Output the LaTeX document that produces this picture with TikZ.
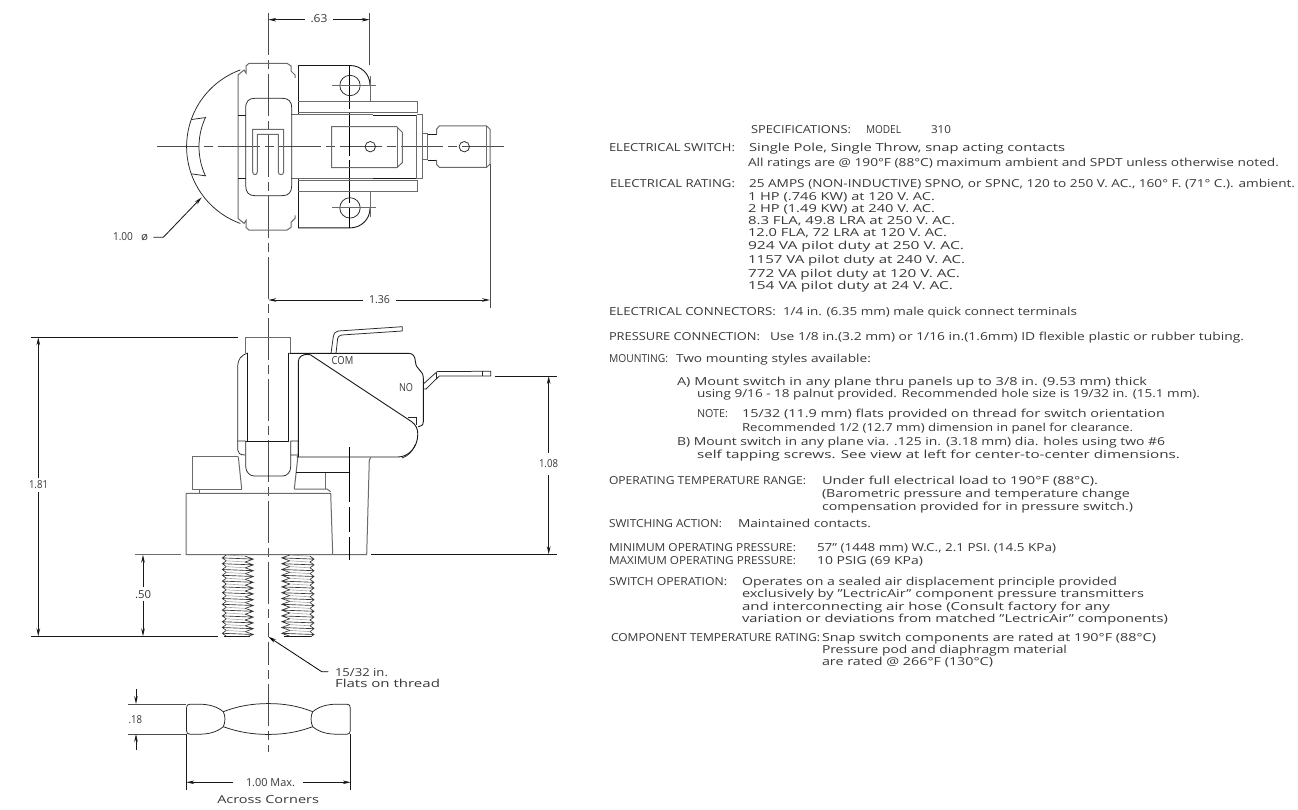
\documentclass[tikz,border=0pt]{standalone}
\usepackage{fontspec}
\usepackage{graphicx}
\setmainfont{Open Sans}
\usetikzlibrary{arrows.meta}
\newcounter{txc}
\newsavebox\txbox
\newcommand{\tl}[4]{% x0 x1 ycentre text
  \stepcounter{txc}%
  \node[tx] (t\thetxc) at (#1,#3+4) {\sbox\txbox{#4}\pgfmathsetmacro\txsx{(#2-#1)/(\wd\txbox)}\scalebox{\txsx}[1]{\usebox\txbox}};}
\newcommand{\thr}[4]{% thread column xl xr depth-left depth-right
  \foreach \i in {0,...,13}{
    \pgfmathsetmacro\ya{555+5.8*\i}
    \pgfmathsetmacro\yb{\ya+2.9}
    \pgfmathsetmacro\yc{\ya+5.8}
    \draw[draw=black!35,line width=.6pt] (#1+#3,\ya) -- (#2-#4,\ya+1.2);
    \draw[draw=black!80,line width=.65pt] (#1+#3,\ya) -- (#1,\yb) -- (#1+#3,\yc)
      (#2-#4,\ya+1.2) -- (#2,\yb+1.2) -- (#2-#4,\yc+1.2)
      (#1,\yb) -- (#2,\yb+1.2);
  }}
\newcommand{\quarter}{%
  \draw[gr] (238,146.7) -- (238,75) -- (244,70) -- (246,73) -- (246,66) -- (249,63.3) -- (287,63.3) -- (291,66) -- (291,71) -- (295,75) -- (295,78);
  \draw[hv] (298,65.5) -- (350,65.5) .. controls (361,65.5) and (370,74) .. (370,85);
  \draw[gr] (370,76) -- (370,102);
  \draw[hv] (298,65.5) -- (298,114);
  \draw[gr] (298,101.7) -- (417.5,101.7) -- (417.5,113.3);
  \draw[gr] (298,113) -- (417.5,113);
  \draw[hv] (238,115) -- (246,115) (373,115) -- (417,115);
  \draw[gr] (291,115) -- (373,115) (417,115) -- (422.7,115);
  \draw[ln] (350,85.5) circle[radius=10.2pt];
  \draw[gr] (332,85.5) -- (376,85.5);
  \draw[ln] (191.7,119.5) -- (206,117.5);
}
\tikzset{
  ln/.style={draw=black!85,line width=.75pt},
  hv/.style={draw=black!90,line width=.9pt},
  gr/.style={draw=black!58,line width=1pt},
  cl/.style={draw=black!70,line width=.8pt,dash pattern=on 42pt off 5pt on 9pt off 5pt},
  dm/.style={draw=black!90,line width=.85pt},
  ex/.style={draw=black!70,line width=.9pt},
  ar/.style={dm,-{Stealth[length=8pt,width=3.6pt]}},
  tx/.style={anchor=base west,inner sep=0pt,outer sep=0pt,text=black!78,font=\fontsize{11}{12}\selectfont},
}
\begin{document}
\begin{tikzpicture}[x=1pt,y=-1pt]
\useasboundingbox (0,0) rectangle (1298,810);
\fill[white] (0,0) rectangle (1298,810);
% ---------- centre lines
\draw[cl] (268.3,13) -- (268.3,752);
\draw[cl] (157,146.7) -- (505,146.7);
\draw[draw=black,line width=.8pt,dash pattern=on 43pt off 4pt] (349.7,66) -- (349.7,228);
% ---------- top view
\quarter
\begin{scope}[shift={(0,293.4)},yscale=-1]
\quarter
\end{scope}
\draw[ln] plot[domain=110:250,samples=60,smooth] ({268.3+81.7*cos(\x)},{146.7+81.7*sin(\x)});
\draw[ln] plot[domain=155:205,samples=24,smooth] ({268.3+69.3*cos(\x)},{146.7+69.3*sin(\x)});
\draw[gr] (291,179) -- (373,179);
\draw[gr] (416.7,115) -- (416.7,179) (422.7,115) -- (422.7,179);
\draw[ln] (245.7,108.3) .. controls (245.7,101) and (249,98.3) .. (255,98.3) -- (282,98.3) .. controls (288.5,98.3) and (291.7,101) .. (291.7,108.3) -- (291.7,185.7) .. controls (291.7,192.5) and (288.5,195.7) .. (282,195.7) -- (255,195.7) .. controls (249,195.7) and (245.7,192.5) .. (245.7,185.7) -- cycle;
\draw[gr] (252.7,172) -- (252.7,129.3) -- (283.7,129.3) -- (283.7,172) .. controls (283.7,175.5) and (278.3,175.5) .. (278.3,172) -- (278.3,134.3) -- (257.3,134.3) -- (257.3,172) .. controls (257.3,175.5) and (252.7,175.5) .. (252.7,172);
% inner terminal
\draw[gr] (331.7,126.7) -- (396.7,126.7) -- (402.3,132.3) -- (402.3,162.7) -- (396.7,167.7) -- (331.7,167.7) -- cycle;
\draw[gr] (397.5,126.7) -- (397.5,167.7);
\draw[ln] (370.3,146.7) circle[radius=5.2pt];
% outer terminal
\draw[gr] (422.7,133.3) -- (427.7,133.3) -- (427.7,160) -- (422.7,160);
\draw[hv] (427.7,134.3) -- (436.7,134.3) (427.7,160) -- (436.7,160);
\draw[gr] (436.7,134.3) -- (436.7,129) -- (439.3,126) -- (486.7,126) -- (490,129.3) -- (490,164) -- (486.7,167.3) -- (439.3,167.3) -- (436.7,164.5) -- (436.7,160);
\draw[gr] (486.7,126) -- (486.7,167.3);
\draw[ln] (464.3,146.7) circle[radius=5.2pt];
% dimensions of the top view
\draw[ex] (369.7,13) -- (369.7,65);
\draw[ar] (305,19.7) -- (268.3,19.7);
\draw[ar] (333,19.7) -- (369.7,19.7);
\tl{310.5}{327.5}{19}{.63}
\draw[ex] (490,164) -- (490,308);
\draw[ar] (363,300) -- (268.3,300);
\draw[ar] (396,300) -- (490,300);
\tl{369}{390}{300}{1.36}
\draw[ar] (153.3,237.3) -- (163.3,237.3) -- (201.7,197.3);
\tl{113}{133}{237}{1.00}
\tl{141}{148}{237}{ø}
% ---------- side view
\draw[hv] (31,337.3) -- (237.7,337.3);
\draw[hv] (31,636.3) -- (218,636.3);
\draw[ar] (38.3,478) -- (38.3,337.3);
\draw[ar] (38.3,492) -- (38.3,636.3);
\tl{29}{48}{484}{1.81}
\draw[gr] (245.3,352.7) -- (245.3,337.3) -- (290.7,337.3) -- (290.7,352.7);
\draw[hv] (247.7,352.7) -- (247.7,441) (288.3,352.7) -- (288.3,441);
\draw[ln] (247.7,353) .. controls (241,355) and (237.7,360) .. (237.7,366) -- (237.7,450) .. controls (237.7,453) and (240,455) .. (245,455);
\draw[hv] (245.7,441) -- (289,441);
\draw[ln] (237.7,441) -- (245.7,441) (245.7,441) -- (245.7,466.7) .. controls (245.7,472) and (250,476) .. (254,476) -- (283,476) .. controls (287,476) and (290.7,472) .. (290.7,466.7) -- (290.7,441) -- (298.3,441) -- (298.3,453) (290.7,455) -- (298.3,455);
\draw[gr] (238.3,456.7) -- (241.7,489) (298.3,453) -- (294.3,489);
\draw[gr] (237.7,456.7) -- (192.3,456.7) -- (192.3,489) -- (241.7,489);
\draw[gr] (199.3,489) -- (199.3,493.3);
\draw[gr] (294.3,489) -- (327,489) -- (330.7,491.7);
\draw[gr] (186,493.3) -- (330.7,493.3) -- (332.7,554.5);
\draw[gr] (186,493.3) -- (186,554.5) -- (366.7,554.5) -- (369.3,460) -- (370.7,457.7);
\draw[hv] (296,472.7) -- (349.3,472.7);
\draw[gr] (325.7,473) -- (325.7,489);
\draw[draw=black,line width=.8pt,dash pattern=on 55pt off 5pt on 25pt off 5pt] (349.3,447.3) -- (349.3,560);
% switch body
\draw[hv] (289.3,353.3) -- (408.3,353.3) .. controls (413,353.3) and (415,356) .. (415.5,362) .. controls (416,370) and (423.3,370) .. (423.3,378) -- (423.3,421.7) .. controls (423.3,425) and (421,426.7) .. (418.3,426.7);
\draw[hv] (298.3,457) -- (298.3,362) .. controls (298.3,357) and (302,354.3) .. (308,354.3) .. controls (310,354.3) and (312,355.5) .. (313.3,356.7) -- (411.7,421.7) .. controls (416,425) and (417.8,429) .. (417.8,434) .. controls (417.8,448) and (408,457) .. (398,457) -- (296.7,457);
\draw[ln] (408.3,417.7) -- (416.7,417.7) -- (416.7,425);
\draw[ln] (415,445) .. controls (412,452) and (408,456) .. (402,458);
% terminals COM and NO
\draw[ln] (331,353.3) -- (333.3,336.7) .. controls (334,333) and (336,331) .. (338.3,331) -- (402.3,326.7) -- (402.3,331) -- (341.7,335) .. controls (339,335.5) and (338,337) .. (337.7,338.3) -- (336,353.3);
\draw[ln] (423.3,384) -- (436.7,372) -- (438,371.5) -- (490.7,371.3) -- (490.7,376) -- (439.3,376) -- (426,389) -- (423.3,389);
\draw[ln] (482.3,371.3) -- (482.3,376) (436.7,373) -- (436.7,378.5);
\tl{331.7}{353.3}{360}{COM}
\tl{399}{413}{387}{NO}
% dimension 1.08
\draw[hv] (495,376) -- (556.7,376);
\draw[hv] (371,554.3) -- (556.7,554.3);
\draw[ar] (548.7,453) -- (548.7,376);
\draw[ar] (548.7,475) -- (548.7,554.3);
\tl{539}{558}{463}{1.08}
% threads
\thr{222.3}{253.3}{4}{8}
\thr{281.7}{314}{8}{4}
\fill[white] (218,636.9) rectangle (320,642);
\draw[hv] (224,636.3) -- (250,636.3) (284,636.3) -- (311,636.3);
% dimension .50
\draw[gr] (135,554.7) -- (181,554.7);
\draw[ar] (143,587) -- (143,554.7);
\draw[ar] (143,601) -- (143,636.3);
\tl{135}{151}{594}{.50}
% leader 15/32
\draw[draw=black,line width=.8pt,-{Stealth[length=8pt,width=3.6pt]}] (328.3,671.7) -- (321.7,671.7) -- (268.3,636.7);
\tl{335}{388}{672}{15/32 in.}
\tl{335}{440}{683.5}{Flats on thread}
% ---------- nut
\draw[ln] (186.5,708) -- (186.5,730.5) .. controls (186.5,733) and (187.5,734.2) .. (190,734.2) -- (199,734.2) .. controls (209,734.2) and (217,732) .. (223.3,726.7);
\draw[ln] (186.5,708) .. controls (186.5,705.3) and (187.5,704.2) .. (190,704.2) -- (199,704.2) .. controls (209,704.2) and (217,706.5) .. (223.3,711.7);
\draw[ln] (350.3,708) -- (350.3,730.5) .. controls (350.3,733) and (349.3,734.2) .. (347,734.2) -- (337,734.2) .. controls (327,734.2) and (319,732) .. (312.7,726.7);
\draw[ln] (350.3,708) .. controls (350.3,705.3) and (349.3,704.2) .. (347,704.2) -- (337,704.2) .. controls (327,704.2) and (319,706.5) .. (312.7,711.7);
\draw[ln] (223.3,711.7) .. controls (238,706) and (252,703.6) .. (268.3,703.6) .. controls (285,703.6) and (298,706) .. (312.7,711.7);
\draw[ln] (223.3,726.7) .. controls (238,732) and (252,734.4) .. (268.3,734.4) .. controls (285,734.4) and (298,732) .. (312.7,726.7);
\draw[ln] (223.3,711.7) .. controls (225.5,716) and (225.5,722) .. (223.3,726.7);
\draw[ln] (312.7,711.7) .. controls (310.5,716) and (310.5,722) .. (312.7,726.7);
\draw[ex] (128.3,704) -- (186.3,704) (128.3,734) -- (186.3,734);
\draw[ar] (136,689) -- (136,704);
\draw[ar] (136,750) -- (136,734);
\tl{128.5}{142}{719}{.18}
\draw[dm] (186.3,734) -- (186.3,790) (350.7,734) -- (350.7,790);
\draw[ar] (233.3,782.3) -- (186.3,782.3);
\draw[ar] (303.3,782.3) -- (350.7,782.3);
\tl{246}{295}{782.5}{1.00 Max.}
\tl{217.3}{319}{799}{Across Corners}
% ---------- specification text
\tl{751}{851}{130}{SPECIFICATIONS:}
\tl{866}{901}{130}{MODEL}
\tl{931}{951}{130}{310}
\tl{609}{735}{148}{ELECTRICAL SWITCH:}
\tl{749}{1065}{148}{Single Pole,  Single Throw, snap acting contacts}
\tl{748}{1279}{163}{All ratings are @ 190°F (88°C) maximum ambient and SPDT unless otherwise noted.}
\tl{610}{735}{184}{ELECTRICAL RATING:}
\tl{749}{1295}{184}{25 AMPS (NON-INDUCTIVE) SPNO, or SPNC, 120 to 250 V. AC., 160° F. (71° C.). ambient.}
\tl{748}{935}{197}{1 HP (.746 KW) at 120 V. AC.}
\tl{748}{935}{209}{2 HP (1.49 KW) at 240 V. AC.}
\tl{748}{955}{221}{8.3 FLA, 49.8 LRA at 250 V. AC.}
\tl{748}{947}{233}{12.0 FLA, 72 LRA at 120 V. AC.}
\tl{748}{964}{246}{924 VA pilot duty at 250 V. AC.}
\tl{748}{965}{260}{1157 VA pilot duty at 240 V. AC.}
\tl{748}{960}{273}{772 VA pilot duty at 120 V. AC.}
\tl{748}{953}{286}{154 VA pilot duty at 24 V. AC.}
\tl{609}{776}{312}{ELECTRICAL CONNECTORS:}
\tl{783}{1077}{312}{1/4 in. (6.35 mm) male quick connect terminals}
\tl{609}{760}{336}{PRESSURE CONNECTION:}
\tl{770}{1244}{336}{Use 1/8 in.(3.2 mm) or 1/16 in.(1.6mm) ID flexible plastic or rubber tubing.}
\tl{609}{668}{358}{MOUNTING:}
\tl{676}{871}{358}{Two mounting styles available:}
\tl{677}{1147}{381}{A) Mount switch in any plane thru panels up to 3/8 in. (9.53 mm) thick}
\tl{697}{1200}{393}{using 9/16 - 18 palnut provided. Recommended hole size is 19/32 in. (15.1 mm).}
\tl{697}{728}{413}{NOTE:}
\tl{742}{1165}{413}{15/32 (11.9 mm) flats provided on thread for switch orientation}
\tl{742}{1133}{427}{Recommended 1/2 (12.7 mm) dimension in panel for clearance.}
\tl{677}{1165}{441}{B) Mount switch in any plane via. .125 in. (3.18 mm) dia. holes using two \#6}
\tl{697}{1180}{454}{self tapping screws.  See view at left for center-to-center dimensions.}
\tl{609}{806}{480}{OPERATING TEMPERATURE RANGE:}
\tl{822}{1098}{480}{Under full electrical load to 190°F (88°C).}
\tl{822}{1130}{493}{(Barometric pressure and temperature change}
\tl{822}{1133}{506}{compensation provided for in pressure switch.)}
\tl{609}{722}{523}{SWITCHING ACTION:}
\tl{738}{871}{523}{Maintained contacts.}
\tl{609}{796}{547}{MINIMUM OPERATING PRESSURE:}
\tl{817}{1056}{547}{57" (1448 mm) W.C., 2.1 PSI. (14.5 KPa)}
\tl{609}{796}{560}{MAXIMUM OPERATING PRESSURE:}
\tl{817}{923}{560}{10 PSIG (69 KPa)}
\tl{609}{727}{581}{SWITCH OPERATION:}
\tl{742}{1117}{581}{Operates on a sealed air displacement principle provided}
\tl{742}{1144}{593}{exclusively by "LectricAir" component pressure transmitters}
\tl{742}{1110}{606}{and interconnecting air hose (Consult factory for any}
\tl{742}{1168}{618}{variation or deviations from matched "LectricAir" components)}
\tl{611}{820}{637}{COMPONENT TEMPERATURE RATING:}
\tl{822}{1156}{637}{Snap switch components are rated at 190°F (88°C)}
\tl{822}{1067}{649}{Pressure pod and diaphragm material}
\tl{822}{993}{661}{are rated @ 266°F (130°C)}
\end{tikzpicture}
\end{document}
